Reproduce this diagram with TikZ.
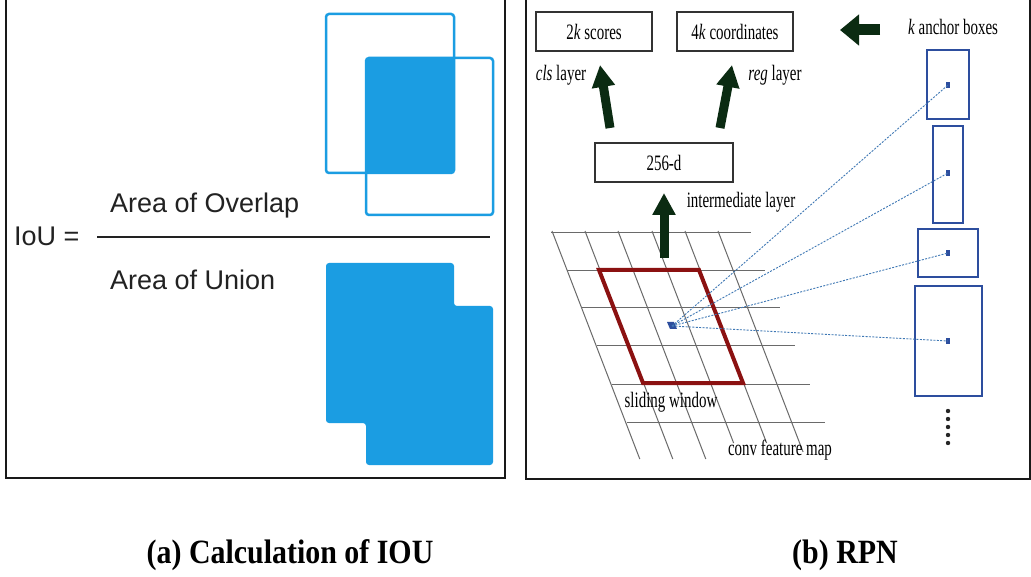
\documentclass[tikz,border=0pt]{standalone}
\usepackage{fontspec}
\usepackage{graphicx}
\setmainfont{Liberation Serif}
\newfontfamily\iousans{Liberation Sans}
\usetikzlibrary{arrows.meta}
\definecolor{ioublue}{HTML}{1B9DE2}
\definecolor{ioutext}{HTML}{222222}
\definecolor{arrowgreen}{HTML}{0B2B12}
\definecolor{windowred}{HTML}{8B1111}
\definecolor{anchorblue}{HTML}{2D4E9E}
\definecolor{raysblue}{HTML}{3F78B5}
\definecolor{gridgray}{HTML}{6A6A6A}
\newcommand{\narrow}[1]{\scalebox{0.68}[1]{#1}}
\tikzset{
  panelframe/.style={draw=black!90, line width=2pt},
  ioubox/.style={draw=ioublue, line width=2.5pt, rounded corners=3pt},
  ioufill/.style={fill=ioublue, rounded corners=3pt},
  ioulabel/.style={text=ioutext, font=\iousans\fontsize{27}{30}\selectfont, inner sep=0pt},
  layerbox/.style={draw=black!80, line width=1.5pt, minimum width=116pt, minimum height=39pt, inner sep=0pt, font=\fontsize{22}{26}\selectfont},
  rpnlabel/.style={font=\fontsize{22}{26}\selectfont, inner sep=0pt},
  bigarrow/.style={draw=arrowgreen, line width=9pt, -{Triangle[length=22pt,width=22pt]}},
  gridline/.style={draw=gridgray, line width=1pt},
  anchorbox/.style={draw=anchorblue, line width=1.6pt},
  centredot/.style={fill=anchorblue, minimum width=4pt, minimum height=6pt, inner sep=0pt},
  ray/.style={draw=raysblue, line width=0.9pt, dash pattern=on 2pt off 1.4pt},
  caption/.style={font=\bfseries\fontsize{34}{38}\selectfont, inner sep=0pt}
}
\begin{document}
\begin{tikzpicture}[x=1pt, y=-1pt]
\useasboundingbox (0,0) rectangle (1031,577);
\clip (0,0) rectangle (1031,577);
\fill[white] (0,0) rectangle (1031,577);

% ---------- (a) IoU panel ----------
\draw[panelframe] (6,-5) rectangle (505,478);

% overlap pictogram
\fill[ioufill] (366,58) rectangle (454,173);
\draw[ioubox] (326,14) rectangle (454,173);
\draw[ioubox] (366,58) rectangle (493,215);

% union pictogram
\fill[ioufill] (326,263) -- (454,263) -- (454,306) -- (493,306) -- (493,465)
  -- (366,465) -- (366,423) -- (326,423) -- cycle;

\node[ioulabel, anchor=base west] (iou) at (14,246) {IoU =};
\node[ioulabel, anchor=base west] (overlap) at (110,213) {Area of Overlap};
\node[ioulabel, anchor=base west] (union) at (110,290) {Area of Union};
\draw[draw=ioutext, line width=2pt] (97,237) -- (490,237);

% ---------- (b) RPN panel ----------
\draw[panelframe] (526,-5) rectangle (1030,479);

% conv feature map grid
\foreach \y/\xa/\xb in {233/551/751, 271/567/765, 308/582/780, 346/597/795, 384/612/810, 422/627/825}
  \draw[gridline] (\xa,\y) -- (\xb,\y);
\foreach \x/\yb in {552/459, 585/459, 618/459, 652/443, 685/443, 718/452}
  \draw[gridline] (\x,231) -- ({\x+0.385*(\yb-231)},\yb);

% sliding window
\draw[windowred, line width=4pt, line join=miter] (599,270) -- (699,270) -- (743,383) -- (643,383) -- cycle;

% window centre
\coordinate (c) at (672,326);
\fill[anchorblue] (667,322) -- (674,322) -- (677,329) -- (670,329) -- cycle;

% anchor boxes
\draw[anchorbox] (927,50) rectangle (969,119);
\draw[anchorbox] (933,126) rectangle (963,223);
\draw[anchorbox] (918,229) rectangle (978,277);
\draw[anchorbox] (915,286) rectangle (982,396);
\node[centredot] (d1) at (948,85) {};
\node[centredot] (d2) at (948,173) {};
\node[centredot] (d3) at (948,253) {};
\node[centredot] (d4) at (948,341) {};
\foreach \d in {d1,d2,d3,d4}
  \draw[ray] (c) -- (\d.center);
\foreach \y in {411,419,427,435,443}
  \fill[black!85] (948,\y) circle (2.2pt);

% layer boxes
\node[layerbox] (cls) at (594,31.5) {\narrow{2\textit{k} scores}};
\node[layerbox] (reg) at (735,31.5) {\narrow{4\textit{k} coordinates}};
\node[layerbox, minimum width=138pt] (inter) at (664,162.5) {\narrow{256-d}};

% thick arrows
\coordinate (upS) at (664,258);  \coordinate (upE) at (664,193);
\coordinate (clsS) at (610,128); \coordinate (clsE) at (600,65);
\coordinate (regS) at (720,128); \coordinate (regE) at (732,65);
\coordinate (ancS) at (880,30);  \coordinate (ancE) at (840,30);
\draw[bigarrow] (upS) -- (upE);
\draw[bigarrow] (clsS) -- (clsE);
\draw[bigarrow] (regS) -- (regE);
\draw[draw=arrowgreen, line width=11pt, -{Triangle[length=19pt,width=30pt]}] (ancS) -- (ancE);

% labels
\node[rpnlabel] (anch) at (953,27) {\narrow{\textit{k} anchor boxes}};
\node[rpnlabel] (clsl) at (561,75) {\narrow{\textit{cls} layer}};
\node[rpnlabel] (regl) at (775,75) {\narrow{\textit{reg} layer}};
\node[rpnlabel] (interl) at (741,202) {\narrow{intermediate layer}};
\node[rpnlabel] (slide) at (671,402) {\narrow{sliding window}};
\node[rpnlabel] (fmap) at (780,450) {\narrow{conv feature map}};

% captions
\node[caption] (capa) at (290,555) {\scalebox{0.88}[1]{(a) Calculation of IOU}};
\node[caption] (capb) at (845,555) {\scalebox{0.88}[1]{(b) RPN}};
\end{tikzpicture}
\end{document}
